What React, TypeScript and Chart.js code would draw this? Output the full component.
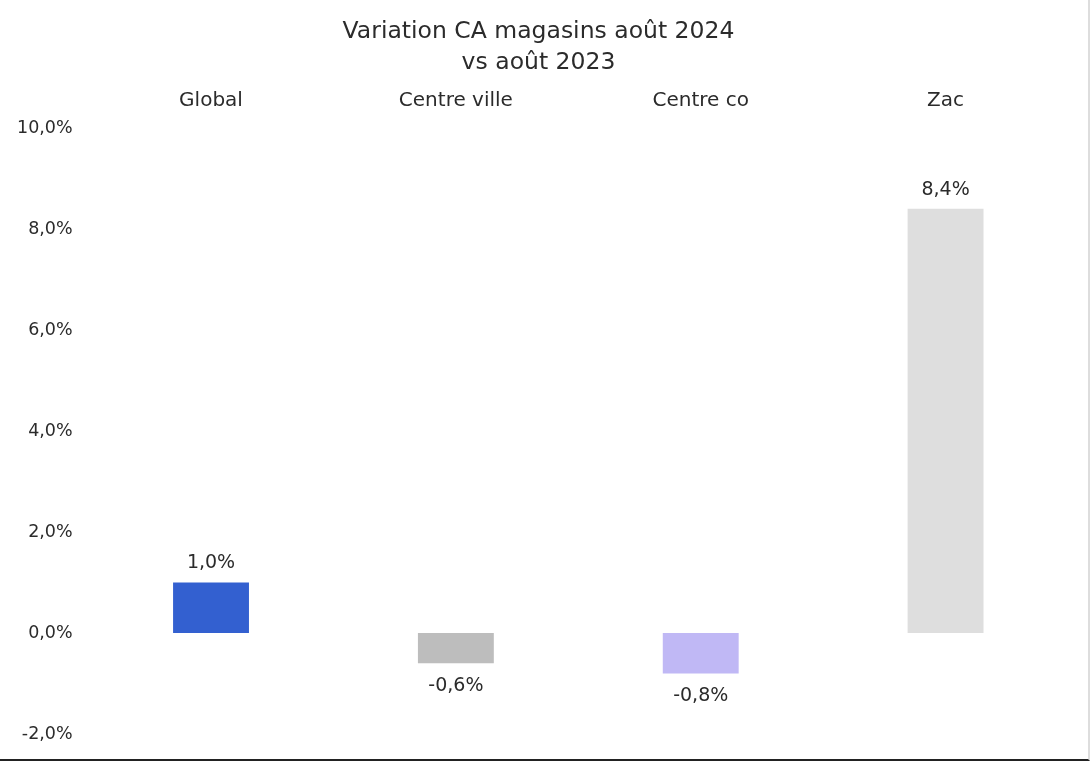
import { useEffect, useRef } from 'react';
import { Chart, registerables } from 'chart.js';

Chart.register(...registerables);

const categories = ['Global', 'Centre ville', 'Centre co', 'Zac'];
const variations = [1.0, -0.6, -0.8, 8.4];
const barColors = ['#3360d0', '#bdbdbd', '#c0b8f5', '#dedede'];
const titleLines = ['Variation CA magasins août 2024', 'vs août 2023'];

const FONT = "'DejaVu Sans', Verdana, sans-serif";
const TEXT = '#2b2b2b';

const fmt = (v: number) => `${v.toFixed(1).replace('.', ',')}%`;

// draws the value above (or below) each bar
const valueLabels = {
  id: 'valueLabels',
  afterDatasetsDraw(chart: Chart) {
    const { ctx } = chart;
    const meta = chart.getDatasetMeta(0);
    ctx.save();
    ctx.font = `19px ${FONT}`;
    ctx.fillStyle = TEXT;
    ctx.textAlign = 'center';
    ctx.textBaseline = 'middle';
    meta.data.forEach((bar: any, i: number) => {
      const v = variations[i];
      const y = v >= 0 ? bar.y - 19 : bar.y + 23;
      ctx.fillText(fmt(v), bar.x, y);
    });
    ctx.restore();
  },
};

export default function App() {
  const canvasRef = useRef<HTMLCanvasElement | null>(null);
  const chartRef = useRef<Chart<'bar'> | null>(null);

  useEffect(() => {
    if (!canvasRef.current) return;
    if (chartRef.current) chartRef.current.destroy();

    const ctx = canvasRef.current.getContext('2d');
    if (!ctx) return;

    chartRef.current = new Chart(ctx, {
      type: 'bar',
      data: {
        labels: categories,
        datasets: [
          {
            label: 'Variation',
            data: variations,
            backgroundColor: barColors,
            borderWidth: 0,
            barPercentage: 0.31,
            categoryPercentage: 1,
          },
        ],
      },
      options: {
        responsive: true,
        maintainAspectRatio: false,
        animation: false,
        layout: { padding: { left: 9, right: 20, top: 16, bottom: 25 } },
        scales: {
          x: {
            position: 'top',
            grid: { display: false },
            border: { display: false },
            ticks: { color: TEXT, font: { family: FONT, size: 20 }, padding: 7 },
          },
          y: {
            min: -2,
            max: 10,
            grid: { display: false },
            border: { display: false },
            ticks: {
              color: TEXT,
              font: { family: FONT, size: 17.5 },
              stepSize: 2,
              padding: 8,
              callback: (v) => fmt(Number(v)),
            },
          },
        },
        plugins: {
          legend: { display: false },
          tooltip: { enabled: false },
          title: {
            display: true,
            text: titleLines,
            color: TEXT,
            font: { family: FONT, size: 23.5, weight: 'normal', lineHeight: 1.32 },
            padding: { top: 0, bottom: 4 },
          },
        },
      },
      plugins: [valueLabels],
    });

    return () => {
      if (chartRef.current) {
        chartRef.current.destroy();
        chartRef.current = null;
      }
    };
  }, []);

  return (
    <div
      style={{
        position: 'absolute',
        left: 0,
        top: 0,
        width: '1090px',
        height: '761px',
        background: '#fff',
        boxSizing: 'border-box',
        borderBottom: '2px solid #222',
        borderRight: '2px solid #ddd',
      }}
    >
      <canvas ref={canvasRef} aria-label="Variation CA magasins" />
    </div>
  );
}
